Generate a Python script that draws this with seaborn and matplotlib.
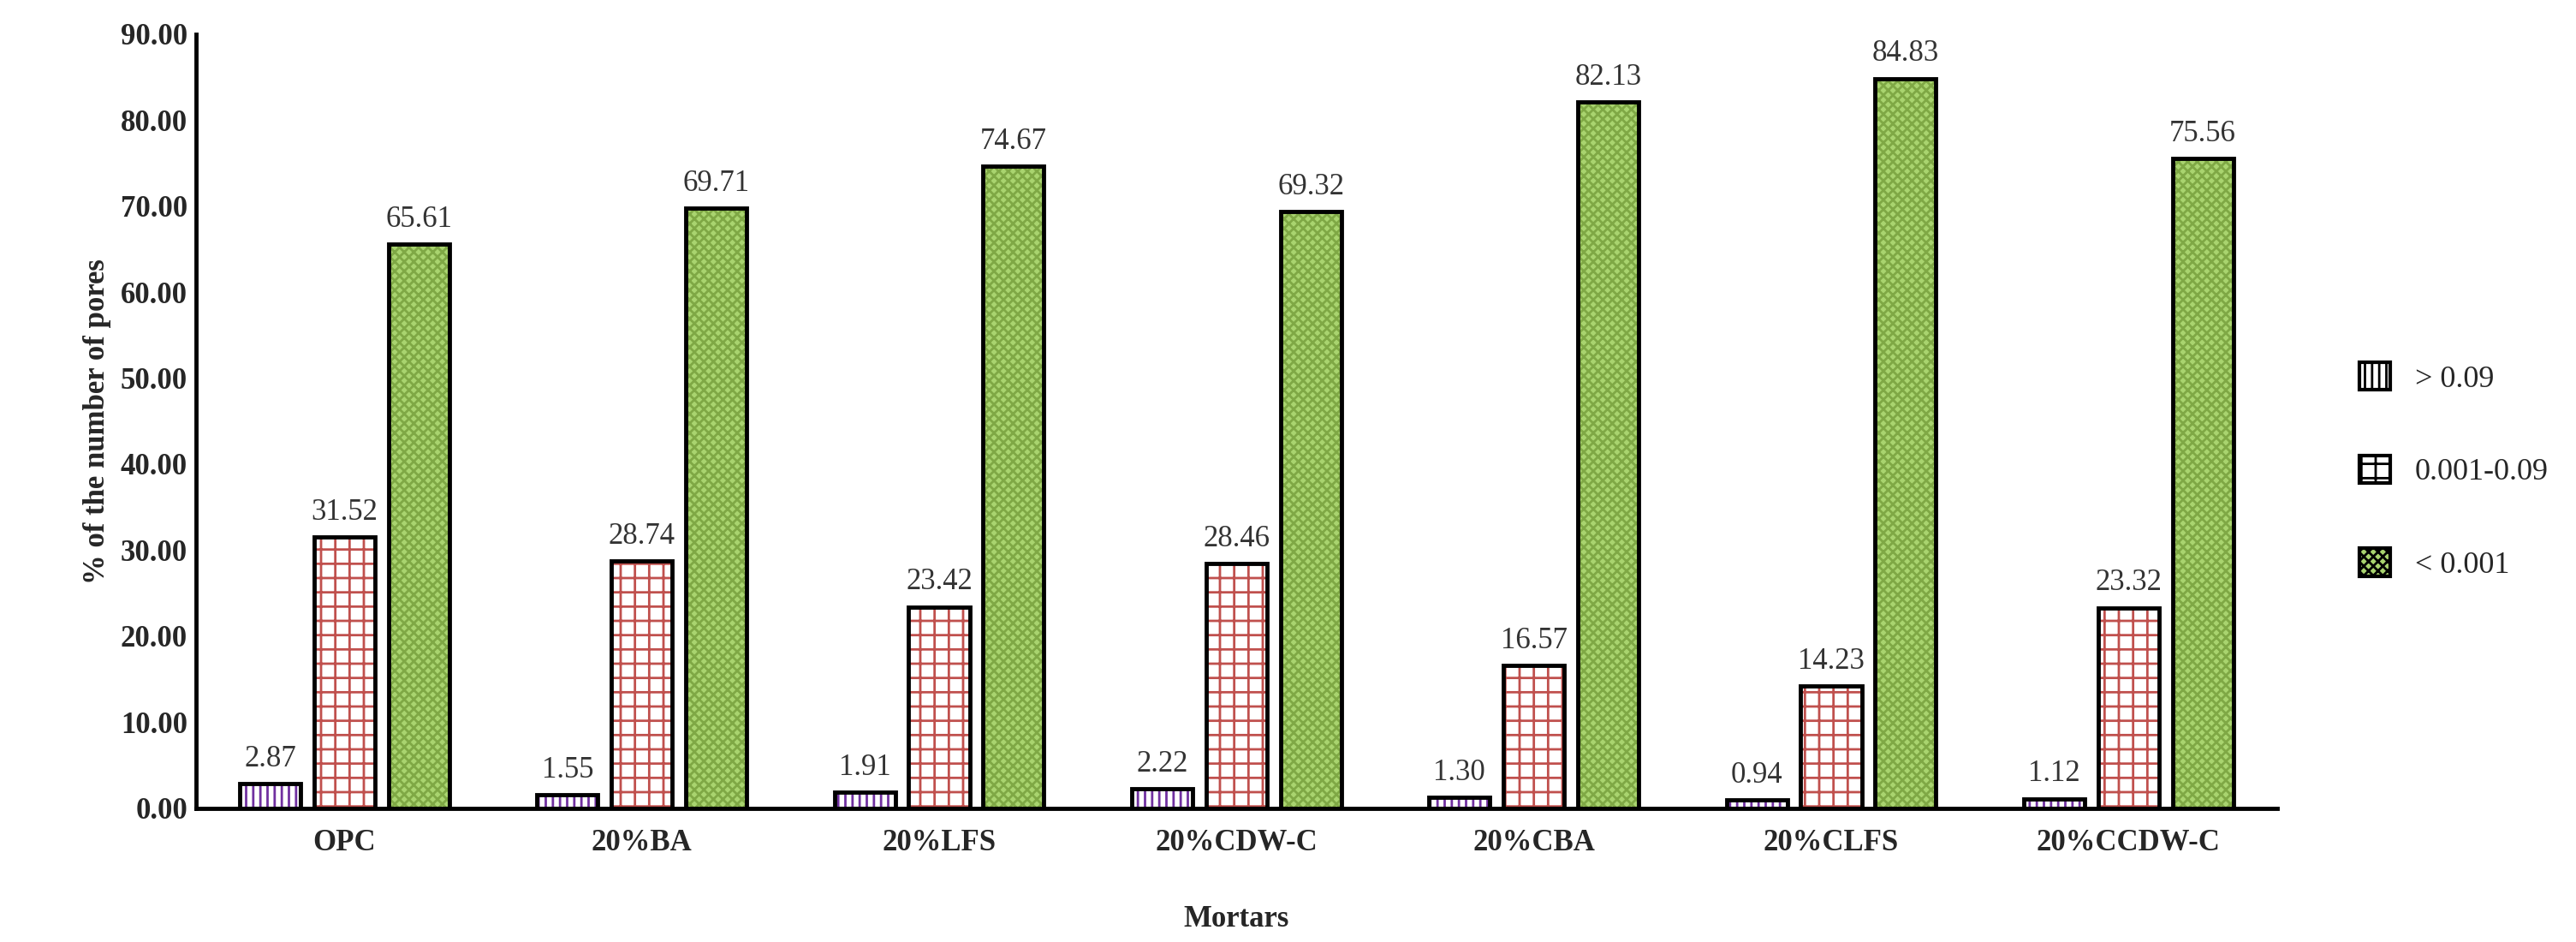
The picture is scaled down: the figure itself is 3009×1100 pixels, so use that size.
import matplotlib
matplotlib.use("Agg")
import matplotlib.pyplot as plt
import seaborn as sns
import pandas as pd
from matplotlib.patches import Rectangle, Patch

mortars = ["OPC", "20%BA", "20%LFS", "20%CDW-C", "20%CBA", "20%CLFS", "20%CCDW-C"]
series = ["> 0.09", "0.001-0.09", "< 0.001"]
v_large = [2.87, 1.55, 1.91, 2.22, 1.30, 0.94, 1.12]
v_mid = [31.52, 28.74, 23.42, 28.46, 16.57, 14.23, 23.32]
v_small = [65.61, 69.71, 74.67, 69.32, 82.13, 84.83, 75.56]

rows = []
for s, vals in zip(series, [v_large, v_mid, v_small]):
    for m, v in zip(mortars, vals):
        rows.append({"Mortars": m, "Size": s, "Value": v})
df = pd.DataFrame(rows)

sns.set_style("white")
plt.rcParams['font.family'] = ['Liberation Serif', 'DejaVu Serif']
plt.rcParams['hatch.linewidth'] = 2.0

fig = plt.figure(figsize=(30.09, 11), dpi=100)
ax = fig.add_axes([0.076, 0.142, 0.808, 0.822])
sns.barplot(data=df, x="Mortars", y="Value", hue="Size", hue_order=series,
            order=mortars, width=0.75, ax=ax, legend=False)

styles = {
    "> 0.09": dict(face="white", hatch="||", hc="#7030a0"),
    "0.001-0.09": dict(face="white", hatch="+", hc="#c0504d"),
    "< 0.001": dict(face="#a9d46f", hatch="xxx", hc="#7fa845"),
}
for cont, s in zip(ax.containers, series):
    st = styles[s]
    for p in list(cont.patches):
        w = p.get_width()
        nw = w * 0.82
        p.set_x(p.get_x() + (w - nw) / 2)
        p.set_width(nw)
        p.set_facecolor(st["face"])
        p.set_hatch(st["hatch"])
        p.set_edgecolor(st["hc"])
        p.set_linewidth(0)
        ax.add_patch(Rectangle((p.get_x(), 0), nw, p.get_height(), fill=False,
                               edgecolor="black", linewidth=3.5, zorder=3))
        ax.text(p.get_x() + nw / 2, p.get_height() + 1.2, f"{p.get_height():.2f}",
                ha="center", va="bottom", fontsize=25, color="#333333")

ax.set_ylim(0, 90)
ax.set_yticks(range(0, 91, 10))
ax.set_yticklabels([f"{t:.2f}" for t in range(0, 91, 10)], fontsize=25, fontweight="bold")
for lab in ax.get_xticklabels():
    lab.set_fontsize(25)
    lab.set_fontweight("bold")
ax.tick_params(axis="x", pad=14)
ax.set_xlabel("Mortars", fontsize=25, fontweight="bold", labelpad=40)
ax.set_ylabel("% of the number of pores", fontsize=25, fontweight="bold", labelpad=8)
sns.despine(ax=ax)
for sp in ["left", "bottom"]:
    ax.spines[sp].set_color("black")
    ax.spines[sp].set_linewidth(3.5)

handles = [Patch(facecolor=styles[s]["face"], hatch=styles[s]["hatch"],
                 edgecolor=styles[s]["hc"], linewidth=0) for s in series]
leg = fig.legend(handles, series, loc="center left", bbox_to_anchor=(0.905, 0.5),
                 frameon=False, fontsize=26, labelspacing=2.0, handlelength=1.0,
                 handleheight=1.0)
for h in leg.legend_handles:
    h.set_edgecolor("black")
    h.set_linewidth(3)

fig.savefig("out.png", dpi=100)
